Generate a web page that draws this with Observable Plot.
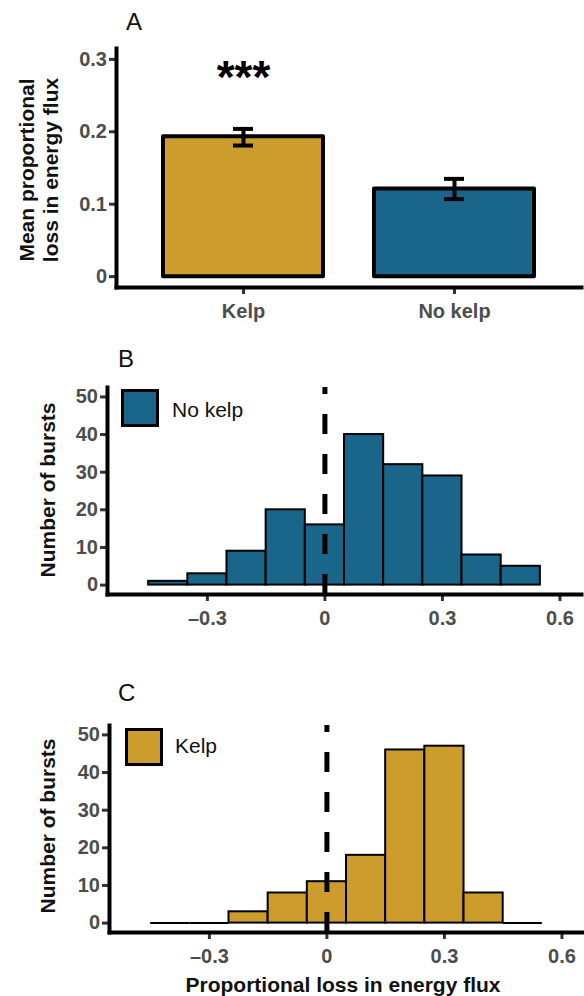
<!DOCTYPE html>
<html><head><meta charset="utf-8">
<script src="https://cdn.jsdelivr.net/npm/d3@7"></script>
<script src="https://cdn.jsdelivr.net/npm/@observablehq/plot@0.6"></script>
<style>
html,body{margin:0;padding:0;background:#fff;}
#wrap{position:relative;width:584px;height:996px;overflow:hidden;font-family:"Liberation Sans",Arial,Helvetica,sans-serif;}
.panel{position:absolute;left:0;}
.lbl{position:absolute;font-size:24px;color:#111;line-height:1;}
.ytitle{position:absolute;font-weight:bold;font-size:21px;color:#111;line-height:1;white-space:nowrap;transform:translate(-50%,-50%) rotate(-90deg);}
.xtitle{position:absolute;font-weight:bold;font-size:21px;color:#111;line-height:1;white-space:nowrap;transform:translateX(-50%);}
.key{position:absolute;box-sizing:border-box;border:3px solid #000;}
.keytext{position:absolute;font-size:21px;color:#111;line-height:1;white-space:nowrap;}
</style></head>
<body><div id="wrap"></div>
<script>
// ---- data ----
const groups = ["Kelp", "No kelp"];
const meanLoss = [0.193, 0.121];
const seLower = [0.181, 0.107];
const seUpper = [0.204, 0.135];
const groupColors = ["#CC9C2D", "#1A668B"];
const sigLabel = "***";
const binCenters = [-0.4, -0.3, -0.2, -0.1, 0, 0.1, 0.2, 0.3, 0.4, 0.5];
const binWidth = 0.1;
const noKelpCounts = [1, 3, 9, 20, 16, 40, 32, 29, 8, 5];
const kelpCounts = [0, 0, 3, 8, 11, 18, 46, 47, 8, 0];
const yTicksA = [0, 0.1, 0.2, 0.3];
const yTicksHist = [0, 10, 20, 30, 40, 50];
const xTicksHist = [-0.3, 0, 0.3, 0.6];

const FONT = '"Liberation Sans", Arial, Helvetica, sans-serif';
const wrap = document.getElementById("wrap");
const fmtDec = d => d === 0 ? "0" : (d < 0 ? "\u2013" : "") + Math.abs(d).toFixed(1);

const tickStyle = {tickSize: 7, fontSize: 20, fontWeight: "bold", color: "#4d4d4d", stroke: "#333", strokeWidth: 3, label: null};

function place(svg, top) {
  svg.classList.add("panel");
  svg.style.top = top + "px";
  wrap.appendChild(svg);
}
function addDiv(cls, text, style) {
  const d = document.createElement("div");
  d.className = cls;
  if (text) d.textContent = text;
  Object.assign(d.style, style);
  wrap.appendChild(d);
  return d;
}

// ---- Panel A ----
const dataA = groups.map((g, i) => ({group: g, mean: meanLoss[i], lo: seLower[i], hi: seUpper[i], color: groupColors[i]}));
const A = Plot.plot({
  width: 584, height: 330,
  marginLeft: 116, marginRight: 3, marginTop: 48, marginBottom: 43,
  style: {fontFamily: FONT, background: "transparent", overflow: "visible"},
  x: {domain: groups, paddingInner: 0.24, paddingOuter: 0.22, axis: null},
  y: {domain: [-0.015, 0.315], axis: null},
  marks: [
    Plot.barY(dataA, {x: "group", y1: 0, y2: "mean", fill: "color", stroke: "#000", strokeWidth: 4, strokeLinejoin: "round"}),
    Plot.ruleX(dataA, {x: "group", y1: "lo", y2: "hi", stroke: "#000", strokeWidth: 4}),
    Plot.tickY(dataA, {x: "group", y: "lo", insetLeft: 70, insetRight: 70, stroke: "#000", strokeWidth: 4}),
    Plot.tickY(dataA, {x: "group", y: "hi", insetLeft: 70, insetRight: 70, stroke: "#000", strokeWidth: 4}),
    Plot.text([{group: groups[0], y: 0.274}], {x: "group", y: "y", text: () => sigLabel, fontSize: 46, fontWeight: "bold", fill: "#000"}),
    Plot.axisY(yTicksA, {...tickStyle, tickPadding: 2.5, tickFormat: fmtDec}),
    Plot.axisX({...tickStyle, tickPadding: 9}),
    Plot.frame({anchor: "left", stroke: "#000", strokeWidth: 4, strokeLinecap: "square"}),
    Plot.frame({anchor: "bottom", stroke: "#000", strokeWidth: 4, strokeLinecap: "square"})
  ]
});
place(A, 0);

// ---- Histograms ----
function hist(counts, color, layout) {
  const bins = binCenters.map((c, i) => ({x1: c - binWidth / 2, x2: c + binWidth / 2, count: counts[i]}));
  return Plot.plot({
    width: 584, height: layout.height,
    marginLeft: layout.left, marginRight: layout.right, marginTop: layout.top, marginBottom: layout.bottom,
    style: {fontFamily: FONT, background: "transparent", overflow: "visible"},
    x: {domain: [-0.555, 0.655], axis: null},
    y: {domain: [-2.5, 52.5], axis: null},
    marks: [
      Plot.rect(bins.filter(d => d.count > 0), {x1: "x1", x2: "x2", y1: 0, y2: "count", fill: color, stroke: "#000", strokeWidth: 2}),
      Plot.ruleY(bins.filter(d => d.count === 0), {x1: "x1", x2: "x2", y: 0, stroke: "#000", strokeWidth: 2}),
      Plot.ruleX([0], {y1: -2.5, y2: 52.5, stroke: "#000", strokeWidth: 5, strokeDasharray: "20,20"}),
      Plot.axisY(yTicksHist, {...tickStyle, tickPadding: 2.5}),
      Plot.axisX(xTicksHist, {...tickStyle, tickPadding: 9, tickFormat: fmtDec}),
      Plot.frame({anchor: "left", stroke: "#000", strokeWidth: 4, strokeLinecap: "square"}),
      Plot.frame({anchor: "bottom", stroke: "#000", strokeWidth: 4, strokeLinecap: "square"})
    ]
  });
}
place(hist(noKelpCounts, groupColors[1], {height: 290, left: 107, right: 3, top: 47, bottom: 36}), 340);
place(hist(kelpCounts, groupColors[0], {height: 326, left: 109, right: 1, top: 55, bottom: 64}), 670);

// ---- Text overlays ----
addDiv("lbl", "A", {left: "126px", top: "10px"});
addDiv("lbl", "B", {left: "118px", top: "347px"});
addDiv("lbl", "C", {left: "118px", top: "681px"});
addDiv("ytitle", "Mean proportional", {left: "26px", top: "170px"});
addDiv("ytitle", "loss in energy flux", {left: "50px", top: "170px"});
addDiv("ytitle", "Number of bursts", {left: "47px", top: "490px"});
addDiv("ytitle", "Number of bursts", {left: "47px", top: "826px"});
addDiv("xtitle", "Proportional loss in energy flux", {left: "343px", top: "974px"});
// legends
addDiv("key", null, {left: "121px", top: "389px", width: "38px", height: "38px", background: groupColors[1]});
addDiv("keytext", groups[1], {left: "172px", top: "399px"});
addDiv("key", null, {left: "125px", top: "728px", width: "38px", height: "38px", background: groupColors[0]});
addDiv("keytext", groups[0], {left: "175px", top: "735px"});
</script>
</body></html>
